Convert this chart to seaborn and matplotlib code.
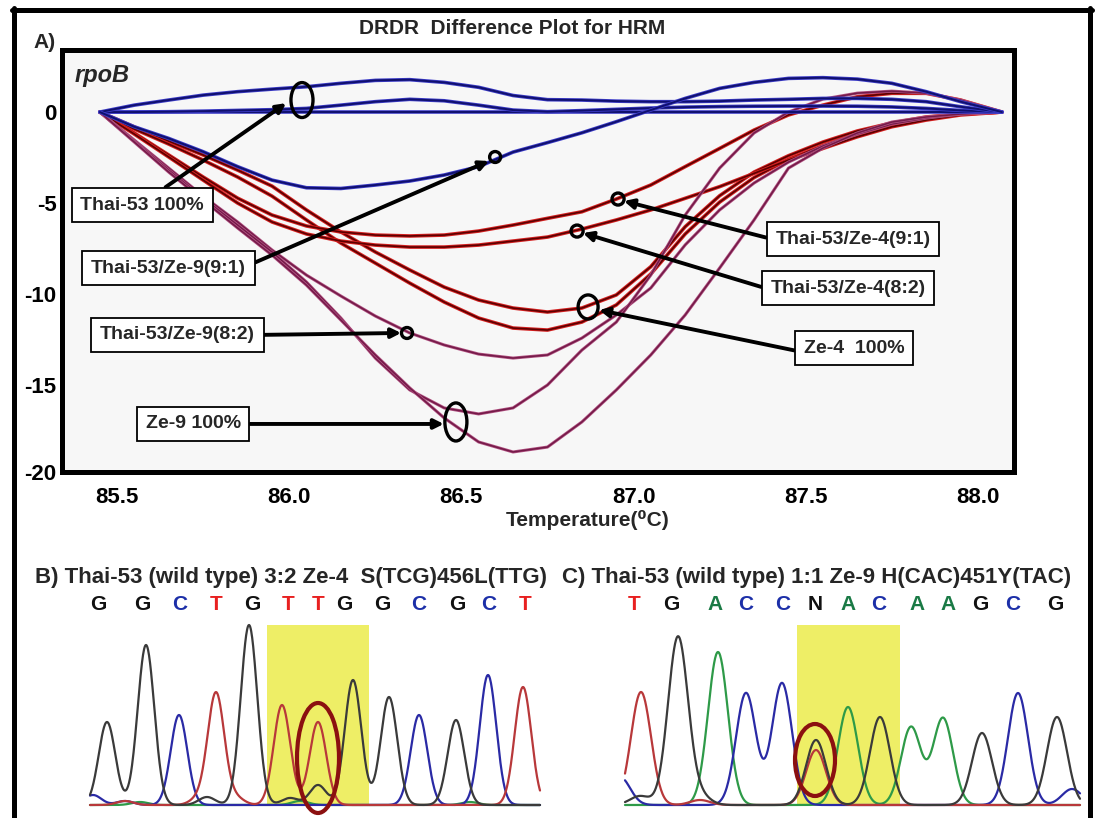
import numpy as np
import pandas as pd
import matplotlib.pyplot as plt
import seaborn as sns
from matplotlib.patches import Ellipse, Rectangle
from matplotlib.lines import Line2D

sns.set_theme(style='white')
plt.rcParams['font.family'] = ['Liberation Sans', 'DejaVu Sans']

# ---- panel A: DRDR difference curves ----
temp = [85.45, 85.55, 85.65, 85.75, 85.85, 85.95, 86.05, 86.15, 86.25, 86.35,
        86.45, 86.55, 86.65, 86.75, 86.85, 86.95, 87.05, 87.15, 87.25, 87.35,
        87.45, 87.55, 87.65, 87.75, 87.85, 87.95, 88.07]

thai53_a = [0, 0.38, 0.66, 0.93, 1.12, 1.26, 1.39, 1.58, 1.74, 1.78, 1.63, 1.36, 0.91, 0.68,
            0.66, 0.60, 0.57, 0.57, 0.60, 0.66, 0.70, 0.75, 0.75, 0.70, 0.57, 0.29, 0]
thai53_b = [0, 0, 0.02, 0.05, 0.09, 0.13, 0.20, 0.38, 0.57, 0.70, 0.62, 0.38, 0.11, 0.02,
            0.08, 0.15, 0.22, 0.27, 0.30, 0.32, 0.33, 0.33, 0.32, 0.28, 0.20, 0.09, 0]
thai53_c = [0] * 27
thai53_d = [0, -0.81, -1.45, -2.18, -3.0, -3.74, -4.16, -4.2, -4.01, -3.79, -3.46, -3.0, -2.2, -1.68,
            -1.14, -0.53, 0.11, 0.75, 1.3, 1.63, 1.85, 1.89, 1.81, 1.58, 1.12, 0.57, 0]

ze4_91 = [0, -1.15, -2.36, -3.57, -4.73, -5.66, -6.26, -6.59, -6.76, -6.81, -6.76, -6.54, -6.21, -5.84,
          -5.48, -4.78, -4.01, -3.0, -2.0, -0.99, -0.16, 0.38, 0.84, 1.03, 1.03, 0.66, 0]
ze4_82 = [0, -1.21, -2.47, -3.74, -5.0, -6.04, -6.7, -7.09, -7.31, -7.42, -7.42, -7.31, -7.09, -6.87,
          -6.43, -5.93, -5.38, -4.74, -4.1, -3.37, -2.64, -2.0, -1.36, -0.81, -0.44, -0.16, 0]
ze4_a = [0, -0.82, -1.6, -2.36, -3.19, -4.07, -5.38, -6.59, -7.69, -8.68, -9.62, -10.33, -10.77, -10.99,
         -10.77, -10.05, -8.5, -6.3, -4.6, -3.3, -2.4, -1.65, -1.04, -0.6, -0.27, -0.11, 0]
ze4_b = [0, -0.93, -1.76, -2.64, -3.57, -4.62, -5.93, -7.2, -8.3, -9.4, -10.44, -11.32, -11.87, -11.98,
         -11.54, -10.6, -8.9, -6.7, -4.95, -3.6, -2.6, -1.85, -1.2, -0.7, -0.33, -0.11, 0]

ze9_82 = [0, -1.54, -3.08, -4.62, -6.04, -7.58, -8.96, -10.11, -11.21, -12.14, -12.8, -13.3, -13.52, -13.35,
          -12.42, -11.15, -9.67, -7.3, -5.38, -3.9, -2.75, -1.87, -1.21, -0.66, -0.33, -0.11, 0]
ze9_a = [0, -1.59, -3.19, -4.73, -6.21, -7.69, -9.34, -11.32, -13.52, -15.27, -16.26, -16.59, -16.26, -15.0,
         -13.08, -11.54, -8.96, -5.66, -3.08, -1.15, 0, 0.71, 1.04, 1.15, 1.04, 0.66, 0]
ze9_b = [0, -1.65, -3.3, -4.84, -6.37, -7.86, -9.51, -11.43, -13.35, -15.16, -16.81, -18.13, -18.68, -18.41,
         -17.03, -15.27, -13.35, -11.15, -8.57, -5.93, -3.08, -1.98, -1.15, -0.55, -0.27, -0.11, 0]

x_ticks = [85.5, 86.0, 86.5, 87.0, 87.5, 88.0]
y_ticks = [0, -5, -10, -15, -19.78]
y_tick_labels = ['0', '-5', '-10', '-15', '-20']

# ---- panels B and C: chromatogram peaks (scan position, peak height) ----
seq_b = ['G', 'G', 'C', 'T', 'G', 'T', 'T', 'G', 'G', 'C', 'G', 'C', 'T']
seq_b_pos = [98, 142, 180, 216, 252, 288, 318, 344, 382, 419, 457, 489, 525]
peaks_b = {
    'G': ([107, 146, 207, 249, 290, 318, 353, 389, 456], [83, 160, 8, 180, 7, 20, 125, 108, 85]),
    'C': ([93, 125, 179, 419, 488], [10, 4, 90, 90, 130]),
    'T': ([125, 198, 216, 236, 282, 318, 523], [4, 6, 112, 7, 100, 83, 118]),
    'A': ([140, 300, 470], [3, 4, 3]),
}
seq_c = ['T', 'G', 'A', 'C', 'C', 'N', 'A', 'C', 'A', 'A', 'G', 'C', 'G']
seq_c_pos = [634, 671, 715, 746, 783, 815, 848, 879, 917, 948, 980, 1013, 1055]
peaks_c = {
    'G': ([640, 678, 700, 816, 880, 982, 1057], [9, 168, 9, 65, 88, 72, 88]),
    'C': ([620, 746, 782, 1018, 1072], [28, 112, 122, 112, 16]),
    'T': ([641, 700, 816], [113, 5, 55]),
    'A': ([718, 848, 911, 943], [153, 98, 78, 87]),
}

trace_colors = {'G': '#3a3a3a', 'C': '#2a2aa5', 'T': '#b8383a', 'A': '#2e9a48', 'N': '#111111'}
letter_colors = {'G': '#111111', 'C': '#1c2fa8', 'T': '#e82020', 'A': '#1a7a45', 'N': '#111111'}

W, H = 1099, 818
fig = plt.figure(figsize=(W / 100, H / 100), dpi=100)
fig.patch.set_facecolor('white')


def fx(px):
    return px / W


def fy(py):
    return 1 - py / H


# ---------------- panel A ----------------
ax = fig.add_axes([fx(62), fy(472), (1014 - 62) / W, (472 - 50) / H])
ax.set_facecolor('#f7f7f7')

for vals in [ze4_a, ze4_b, ze4_91, ze4_82]:
    sns.lineplot(x=temp, y=vals, ax=ax, color='#d42020', linewidth=2.6, zorder=2)
    sns.lineplot(x=temp, y=vals, ax=ax, color='#5c0000', linewidth=1.2, zorder=2)
for vals in [ze9_82, ze9_a, ze9_b]:
    sns.lineplot(x=temp, y=vals, ax=ax, color='#b05080', linewidth=2.2, zorder=2)
    sns.lineplot(x=temp, y=vals, ax=ax, color='#741a48', linewidth=1.1, zorder=2)
for vals in [thai53_c, thai53_b, thai53_a, thai53_d]:
    sns.lineplot(x=temp, y=vals, ax=ax, color='#3c3cc8', linewidth=2.6, zorder=3)
    sns.lineplot(x=temp, y=vals, ax=ax, color='#10106e', linewidth=1.4, zorder=3)

ax.set_xlim(85.340, 88.105)
ax.set_ylim(-19.78, 3.41)
ax.set_xticks(x_ticks)
ax.set_xticklabels([f'{t:.1f}' for t in x_ticks], fontsize=16, fontweight='bold')
ax.set_yticks(y_ticks)
ax.set_yticklabels(y_tick_labels, fontsize=16, fontweight='bold')
ax.tick_params(axis='both', length=0, colors='black')
ax.tick_params(axis='x', pad=11)
ax.tick_params(axis='y', pad=4)
ax.set_xlabel('')
ax.set_ylabel('')
for sp in ax.spines.values():
    sp.set_visible(True)
    sp.set_color('black')
    sp.set_linewidth(3.6)

ax.text(85.378, 2.0, 'rpoB', fontsize=17, fontweight='bold', fontstyle='italic', va='center')

# markers on the curves
marks = [((86.037, 0.66), 0.064, 1.92), ((86.598, -2.47), 0.032, 0.60), ((86.342, -12.14), 0.032, 0.60),
         ((86.484, -17.03), 0.064, 2.09), ((86.955, -4.78), 0.035, 0.66), ((86.836, -6.54), 0.035, 0.66),
         ((86.868, -10.71), 0.058, 1.32)]
for c, w, h in marks:
    ax.add_patch(Ellipse(c, w, h, fill=False, ec='black', lw=2.4, zorder=5))

labels = [
    ('Thai-53 100%', (85.573, -5.11), (85.991, 0.49), (0.58, 1.0)),
    ('Thai-53/Ze-9(9:1)', (85.650, -8.57), (86.580, -2.69), (1.0, 0.6)),
    ('Thai-53/Ze-9(8:2)', (85.675, -12.25), (86.325, -12.14), (1.0, 0.5)),
    ('Ze-9 100%', (85.721, -17.14), (86.449, -17.14), (1.0, 0.5)),
    ('Thai-53/Ze-4(9:1)', (87.637, -6.98), (86.972, -4.89), (0.0, 0.45)),
    ('Thai-53/Ze-4(8:2)', (87.623, -9.67), (86.853, -6.65), (0.0, 0.4)),
    ('Ze-4  100%', (87.640, -12.97), (86.900, -10.88), (0.0, 0.25)),
]
for txt, xytext, xy, rel in labels:
    ax.annotate(txt, xy=xy, xytext=xytext, ha='center', va='center',
                fontsize=14, fontweight='bold', zorder=6,
                bbox=dict(boxstyle='square,pad=0.45', fc='white', ec='black', lw=1.3),
                arrowprops=dict(arrowstyle='-|>', color='black', lw=2.8, mutation_scale=14,
                                shrinkA=0, shrinkB=0, relpos=rel))

fig.text(fx(512), fy(28), 'DRDR  Difference Plot for HRM', ha='center', va='center',
         fontsize=15, fontweight='bold')
fig.text(fx(33), fy(42), 'A)', ha='left', va='center', fontsize=15, fontweight='bold')
fig.text(fx(588), fy(520), 'Temperature(\u2070C)', ha='center', va='center',
         fontsize=15, fontweight='bold')


# ---------------- panels B and C ----------------
def draw_chrom(left, right, xlim, peaks, width, seq, seq_pos, band, oval, title, title_x):
    axc = fig.add_axes([fx(left), 0, (right - left) / W, (818 - 612) / H])
    axc.set_xlim(*xlim)
    axc.set_ylim(-13, 193)
    axc.axis('off')
    axc.add_patch(Rectangle((band[0], -1), band[1] - band[0], 181, fc='#eeee66',
                            ec='none', zorder=0))
    grid = np.linspace(xlim[0] + 5, xlim[1] - 5, 900)
    for base in ['A', 'C', 'T', 'G']:
        pos, hts = peaks[base]
        y = np.zeros_like(grid)
        for p, h in zip(pos, hts):
            y += h * np.exp(-0.5 * ((grid - p) / width) ** 2)
        sns.lineplot(x=grid, y=y, ax=axc, color=trace_colors[base], linewidth=1.6, zorder=2)
    axc.add_patch(Ellipse(oval[0], oval[1], oval[2], fill=False, ec='#8b1010', lw=3, zorder=4))
    for b, p in zip(seq, seq_pos):
        axc.text(p, 201, b, ha='center', va='center', fontsize=15, fontweight='bold',
                 color=letter_colors[b], clip_on=False)
    fig.text(fx(title_x), fy(577), title, ha='left', va='center', fontsize=16, fontweight='bold')


draw_chrom(85, 545, (85, 545), peaks_b, 8.3, seq_b, seq_b_pos, (267, 369),
           ((318, 47), 42, 110), 'B) Thai-53 (wild type) 3:2 Ze-4  S(TCG)456L(TTG)', 35)
draw_chrom(620, 1085, (620, 1085), peaks_c, 10.0, seq_c, seq_c_pos, (797, 900),
           ((815, 45), 40, 72), 'C) Thai-53 (wild type) 1:1 Ze-9 H(CAC)451Y(TAC)', 562)

# outer frame
for xs, ys in [([14, 14], [8, 818]), ([12, 1092], [10, 10]), ([1090, 1090], [8, 818])]:
    fig.add_artist(Line2D([fx(v) for v in xs], [fy(v) for v in ys], color='black', lw=3.6))

fig.savefig('out.png', dpi=100)
